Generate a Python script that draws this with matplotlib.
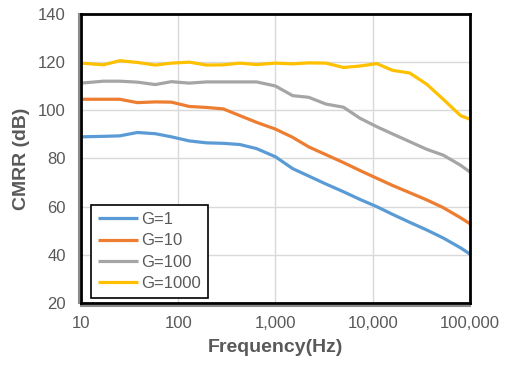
from matplotlib import pyplot as plt
from matplotlib import transforms
from matplotlib.ticker import FixedLocator, FuncFormatter, NullLocator

# 频率点 (Hz)
freq = [10, 17, 25, 38, 58, 85, 130, 195, 290, 430, 640, 1000, 1500, 2200,
        3300, 5000, 7400, 11000, 16000, 24000, 36000, 53000, 80000, 100000]

# 各增益下的 CMRR (dB)
g1 = [89.0, 89.2, 89.4, 90.8, 90.3, 89.0, 87.3, 86.5, 86.3, 85.8, 84.1, 80.7,
      75.8, 72.7, 69.4, 66.2, 63.0, 60.0, 56.8, 53.5, 50.3, 47.0, 42.9, 40.3]
g10 = [104.6, 104.6, 104.6, 103.2, 103.5, 103.4, 101.6, 101.2, 100.6, 97.8, 95.0, 92.2,
       88.8, 84.8, 81.6, 78.3, 75.0, 71.8, 68.8, 65.8, 62.8, 59.6, 55.4, 52.9]
g100 = [111.3, 112.1, 112.1, 111.7, 110.7, 111.9, 111.3, 111.8, 111.8, 111.8, 111.8, 110.1,
        106.1, 105.4, 102.6, 101.3, 96.7, 93.2, 90.2, 87.0, 83.8, 81.4, 77.2, 74.4]
g1000 = [119.6, 118.9, 120.6, 119.9, 118.8, 119.6, 120.0, 118.8, 118.9, 119.6, 119.0, 119.6,
         119.3, 119.7, 119.6, 117.8, 118.4, 119.4, 116.6, 115.5, 110.8, 104.6, 97.8, 96.3]

labels = ["G=1", "G=10", "G=100", "G=1000"]
colors = ["#5b9bd5", "#ed7d31", "#a5a5a5", "#ffc000"]

plt.rcParams['font.family'] = ['Liberation Sans', 'DejaVu Sans']
txt = "#595959"

fig = plt.figure(figsize=(5.08, 3.67), dpi=100)
ax = fig.add_axes([81/508, 1-303/367, 389/508, 289/367])

for ys, lab, c in zip([g1, g10, g100, g1000], labels, colors):
    ax.plot(freq, ys, color=c, lw=2.3, label=lab, solid_capstyle='butt')

ax.set_xscale('log')
ax.set_xlim(10, 100000)
ax.set_ylim(20, 140)
ax.xaxis.set_major_locator(FixedLocator([10, 100, 1000, 10000, 100000]))
ax.xaxis.set_minor_locator(NullLocator())
ax.xaxis.set_major_formatter(FuncFormatter(lambda v, p: "{:,}".format(int(round(v)))))
ax.set_yticks(range(20, 141, 20))

ax.grid(True, color="#d9d9d9", lw=1)
ax.set_axisbelow(True)
ax.tick_params(length=0, labelsize=12, labelcolor=txt)
ax.tick_params(axis='y', pad=11)
ax.tick_params(axis='x', pad=9)

# 边框：黑色内线，左/下再加一条灰色外线
for s in ax.spines.values():
    s.set_color('black')
    s.set_linewidth(2)
t_left = transforms.offset_copy(ax.transAxes, fig=fig, x=-2.5, y=0, units='dots')
t_down = transforms.offset_copy(ax.transAxes, fig=fig, x=0, y=-2.5, units='dots')
ax.plot([0, 0], [0, 1], transform=t_left, color='#8c8c8c', lw=1.5, clip_on=False)
ax.plot([0, 1], [0, 0], transform=t_down, color='#8c8c8c', lw=1.5, clip_on=False)

ax.set_xlabel("Frequency(Hz)", fontsize=14, fontweight='bold', color=txt, labelpad=6)
ax.set_ylabel("CMRR (dB)", fontsize=14, fontweight='bold', color=txt, labelpad=6)

leg = ax.legend(ax.get_lines()[:4], labels, loc='lower left',
                bbox_to_anchor=(0.026, 0.017), borderaxespad=0,
                fontsize=12, fancybox=False, framealpha=1, edgecolor='black',
                handlelength=2.4, handletextpad=0.2, labelspacing=0.38,
                borderpad=0.42)
leg.get_frame().set_linewidth(1.2)
for t in leg.get_texts():
    t.set_color(txt)

plt.savefig("out.png", dpi=100)
